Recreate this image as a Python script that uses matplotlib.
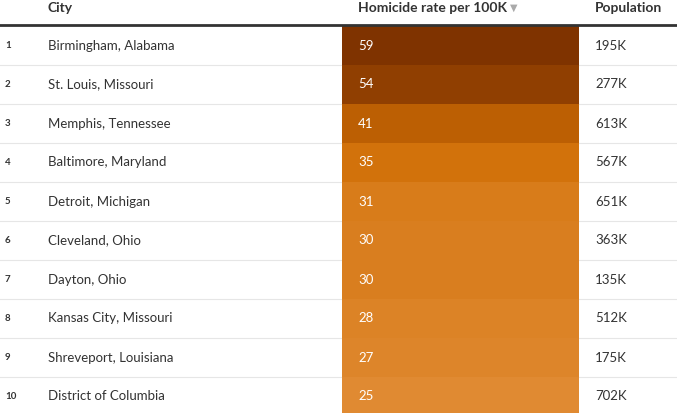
import matplotlib.pyplot as plt
from matplotlib.colors import LinearSegmentedColormap, Normalize
from matplotlib.patches import Rectangle

cities = ["Birmingham, Alabama", "St. Louis, Missouri", "Memphis, Tennessee",
          "Baltimore, Maryland", "Detroit, Michigan", "Cleveland, Ohio",
          "Dayton, Ohio", "Kansas City, Missouri", "Shreveport, Louisiana",
          "District of Columbia"]
rates = [59, 54, 41, 35, 31, 30, 30, 28, 27, 25]
population = ["195K", "277K", "613K", "567K", "651K", "363K",
              "135K", "512K", "175K", "702K"]

plt.rcParams['font.family'] = ['Lato', 'DejaVu Sans']

cmap = LinearSegmentedColormap.from_list(
    "rate", [(0, "#e08a32"), (0.3, "#d2720a"), (0.5, "#b85c02"), (1, "#7f3300")])
norm = Normalize(vmin=25, vmax=59)

fig = plt.figure(figsize=(6.77, 4.13), dpi=100)
ax = fig.add_axes([0, 0, 1, 1])
ax.set_xlim(0, 677)
ax.set_ylim(413, 0)
ax.axis("off")

txt = "#333333"
ax.text(48, 8, "City", fontsize=10, fontweight="bold", color=txt, va="center")
ax.text(358, 8, "Homicide rate per 100K", fontsize=10, fontweight="bold",
        color=txt, va="center")
ax.text(510, 8, "▼", fontsize=7, color="#aaaaaa", va="center")
ax.text(595, 8, "Population", fontsize=10, fontweight="bold", color=txt, va="center")
ax.plot([0, 677], [25, 25], color="#333333", lw=2)

row_h = 39
for i, (c, r, p) in enumerate(zip(cities, rates, population)):
    top = 26 + i * row_h
    mid = top + row_h / 2
    ax.add_patch(Rectangle((342, top), 237, row_h, color=cmap(norm(r)), lw=0))
    if i < 9:
        ax.plot([0, 677], [top + row_h, top + row_h], color="#e6e6e6", lw=0.8, zorder=0)
    ax.text(5, mid, str(i + 1), fontsize=7, fontweight="bold", color=txt, va="center")
    ax.text(48, mid, c, fontsize=9.5, color=txt, va="center")
    ax.text(358, mid, str(r), fontsize=9.5, color="white", va="center")
    ax.text(595, mid, p, fontsize=9.5, color=txt, va="center")

fig.savefig("out.png", dpi=100)
